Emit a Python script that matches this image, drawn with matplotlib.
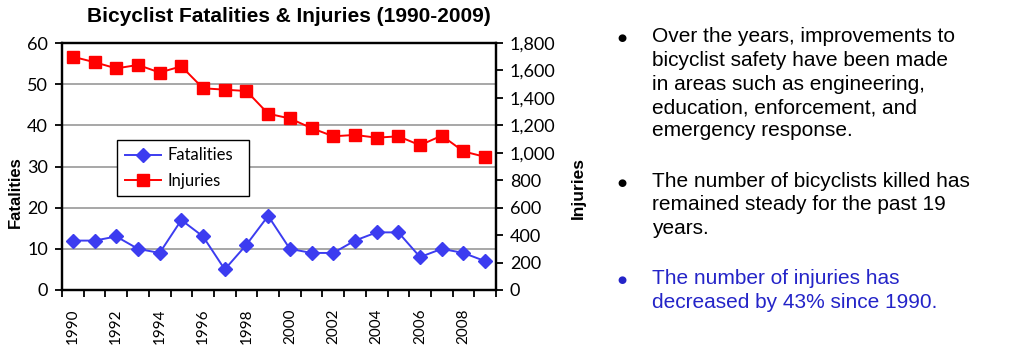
import matplotlib
matplotlib.use("Agg")
import matplotlib.pyplot as plt
from matplotlib.ticker import FuncFormatter, FixedLocator

years = list(range(1990, 2010))
fatalities = [12, 12, 13, 10, 9, 17, 13, 5, 11, 18, 10, 9, 9, 12, 14, 14, 8, 10, 9, 7]
injuries = [1700, 1660, 1615, 1640, 1585, 1630, 1470, 1460, 1450, 1285,
            1250, 1180, 1120, 1130, 1110, 1120, 1055, 1125, 1010, 970]
year_labels = [str(y) for y in range(1990, 2009, 2)]
left_ticks = [0, 10, 20, 30, 40, 50, 60]
right_ticks = list(range(0, 1801, 200))

title = "Bicyclist Fatalities & Injuries (1990-2009)"
bullet_lines = [
    ["Over the years, improvements to", "bicyclist safety have been made",
     "in areas such as engineering,", "education, enforcement, and",
     "emergency response."],
    ["The number of bicyclists killed has", "remained steady for the past 19",
     "years."],
    ["The number of injuries has", "decreased by 43% since 1990."],
]
bullet_colors = ["black", "black", "#2424c8"]

tick_font = "Lato"
text_font = "Liberation Sans"

W, H = 1024, 357
fig = plt.figure(figsize=(W / 100, H / 100), dpi=100)
ax = fig.add_axes([62 / W, 1 - 290 / H, 434 / W, 247 / H])
ax2 = ax.twinx()

blue = "#3c3cf0"
red = "#ff0000"

l1, = ax.plot(years, fatalities, color=blue, marker="D", markersize=7,
              linewidth=1.4, label="Fatalities", zorder=3)
l2, = ax2.plot(years, injuries, color=red, marker="s", markersize=8,
               linewidth=1.4, label="Injuries", zorder=3)

ax.set_xlim(1989.5, 2009.5)
ax.set_ylim(0, 60)
ax2.set_ylim(0, 1800)

ax.set_yticks(left_ticks)
ax2.set_yticks(right_ticks)
ax2.yaxis.set_major_formatter(FuncFormatter(lambda v, p: f"{int(v):,}"))

for y in left_ticks[1:-1]:
    ax.axhline(y, color="#a0a0a0", linewidth=1.3, zorder=1)

ax.set_xticks([int(s) for s in year_labels])
ax.set_xticklabels(year_labels, rotation=90, fontsize=11, family=tick_font)
ax.tick_params(axis="x", which="major", length=0, pad=13)
ax.xaxis.set_minor_locator(FixedLocator([y - 0.5 for y in years] + [2009.5]))
ax.tick_params(axis="x", which="minor", length=5, width=1.3, direction="out")

ax.tick_params(axis="y", length=5, width=1.3, direction="out", labelsize=13, pad=5)
ax2.tick_params(axis="y", length=5, width=1.3, direction="out", labelsize=13, pad=5)
for lab in ax.get_yticklabels() + ax2.get_yticklabels():
    lab.set_family(tick_font)

for a in (ax, ax2):
    for s in a.spines.values():
        s.set_linewidth(1.6)
        s.set_color("black")

fig.text(15 / W, 1 - 192 / H, "Fatalities", rotation=90, ha="center", va="center",
         fontsize=12, fontweight="bold", family=text_font)
fig.text(578 / W, 1 - 188 / H, "Injuries", rotation=90, ha="center", va="center",
         fontsize=12.5, fontweight="bold", family=text_font)

leg = ax2.legend([l1, l2], ["Fatalities", "Injuries"], loc="upper left",
                 bbox_to_anchor=(55 / 434, 150 / 247, 132 / 434, 0.0), mode="expand",
                 borderaxespad=0, fancybox=False, edgecolor="black", framealpha=1,
                 prop={"family": tick_font, "size": 12}, handlelength=2.2,
                 handletextpad=0.4, borderpad=0.45, labelspacing=0.55)
leg.get_frame().set_linewidth(1.0)

fig.text(289 / W, 1 - 16 / H, title, ha="center", va="center", fontsize=15,
         fontweight="bold", family=text_font)

block_baselines = [[42.5, 66, 89.5, 113, 136.5], [187, 210.5, 234], [284, 307.5]]
bullet_y = [37.5, 183.5, 280]
for lines, bases, by, col in zip(bullet_lines, block_baselines, bullet_y, bullet_colors):
    fig.text(622 / W, 1 - by / H, "\u25cf", ha="center", va="center",
             fontsize=7.5, color=col, family="DejaVu Sans")
    for ln, b in zip(lines, bases):
        fig.text(652 / W, 1 - b / H, ln, ha="left", va="baseline", fontsize=15,
                 color=col, family=text_font)

fig.savefig("out.png", dpi=100)
